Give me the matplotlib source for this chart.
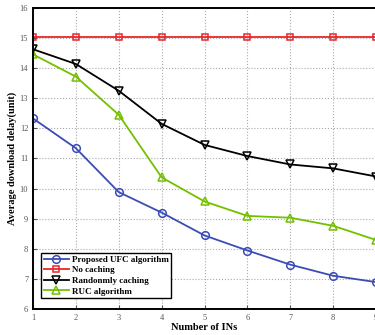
import matplotlib
matplotlib.use("Agg")
import matplotlib.pyplot as plt

# 数据
n_ins = [1, 2, 3, 4, 5, 6, 7, 8, 9]
ufc = [12.33, 11.34, 9.88, 9.20, 8.44, 7.94, 7.47, 7.10, 6.89]
no_cache = [15.05] * 9
rand_cache = [14.63, 14.14, 13.25, 12.15, 11.45, 11.08, 10.80, 10.67, 10.40]
ruc = [14.46, 13.72, 12.45, 10.37, 9.57, 9.09, 9.03, 8.76, 8.29]

plt.rcParams["font.family"] = ["Liberation Serif", "DejaVu Serif"]

fig = plt.figure(figsize=(3.75, 3.35), dpi=100)
ax = fig.add_axes([0.088, 0.078, 0.915, 0.898])

ax.plot(n_ins, ufc, color="#3b4cb5", marker="o", mfc="none", ms=5.5, lw=1.3, mew=1.1,
        label="Proposed UFC algorithm")
ax.plot(n_ins, no_cache, color="#e8262a", marker="s", mfc="none", ms=5, lw=1.3, mew=1.1,
        label="No caching")
ax.plot(n_ins, rand_cache, color="black", marker="v", mfc="none", ms=5.5, lw=1.3, mew=1.1,
        label="Randonmly caching")
ax.plot(n_ins, ruc, color="#74c000", marker="^", mfc="none", ms=5.5, lw=1.3, mew=1.1,
        label="RUC algorithm")

ax.set_xlim(1, 9)
ax.set_ylim(6, 16)
ax.set_xticks(range(1, 10))
ax.set_yticks(range(6, 17))
ax.tick_params(direction="in", labelsize=6, colors="#555555", length=3, width=0.8)
for s in ax.spines.values():
    s.set_linewidth(1.4)
ax.grid(True, linestyle=":", color="#aaaaaa", lw=0.8)

ax.set_xlabel("Number of INs", fontsize=7.5, fontweight="bold", labelpad=1)
ax.set_ylabel("Average download delay(unit)", fontsize=7.5, fontweight="bold", labelpad=2)

leg = ax.legend(loc="lower left", prop={"size": 6.5, "weight": "bold"}, fancybox=False,
                edgecolor="black", framealpha=1, borderpad=0.3, labelspacing=0.25,
                handlelength=2.8, handletextpad=0.3, bbox_to_anchor=(0.01, 0.02))
leg.get_frame().set_linewidth(1.0)

fig.savefig("out.png", dpi=100)
